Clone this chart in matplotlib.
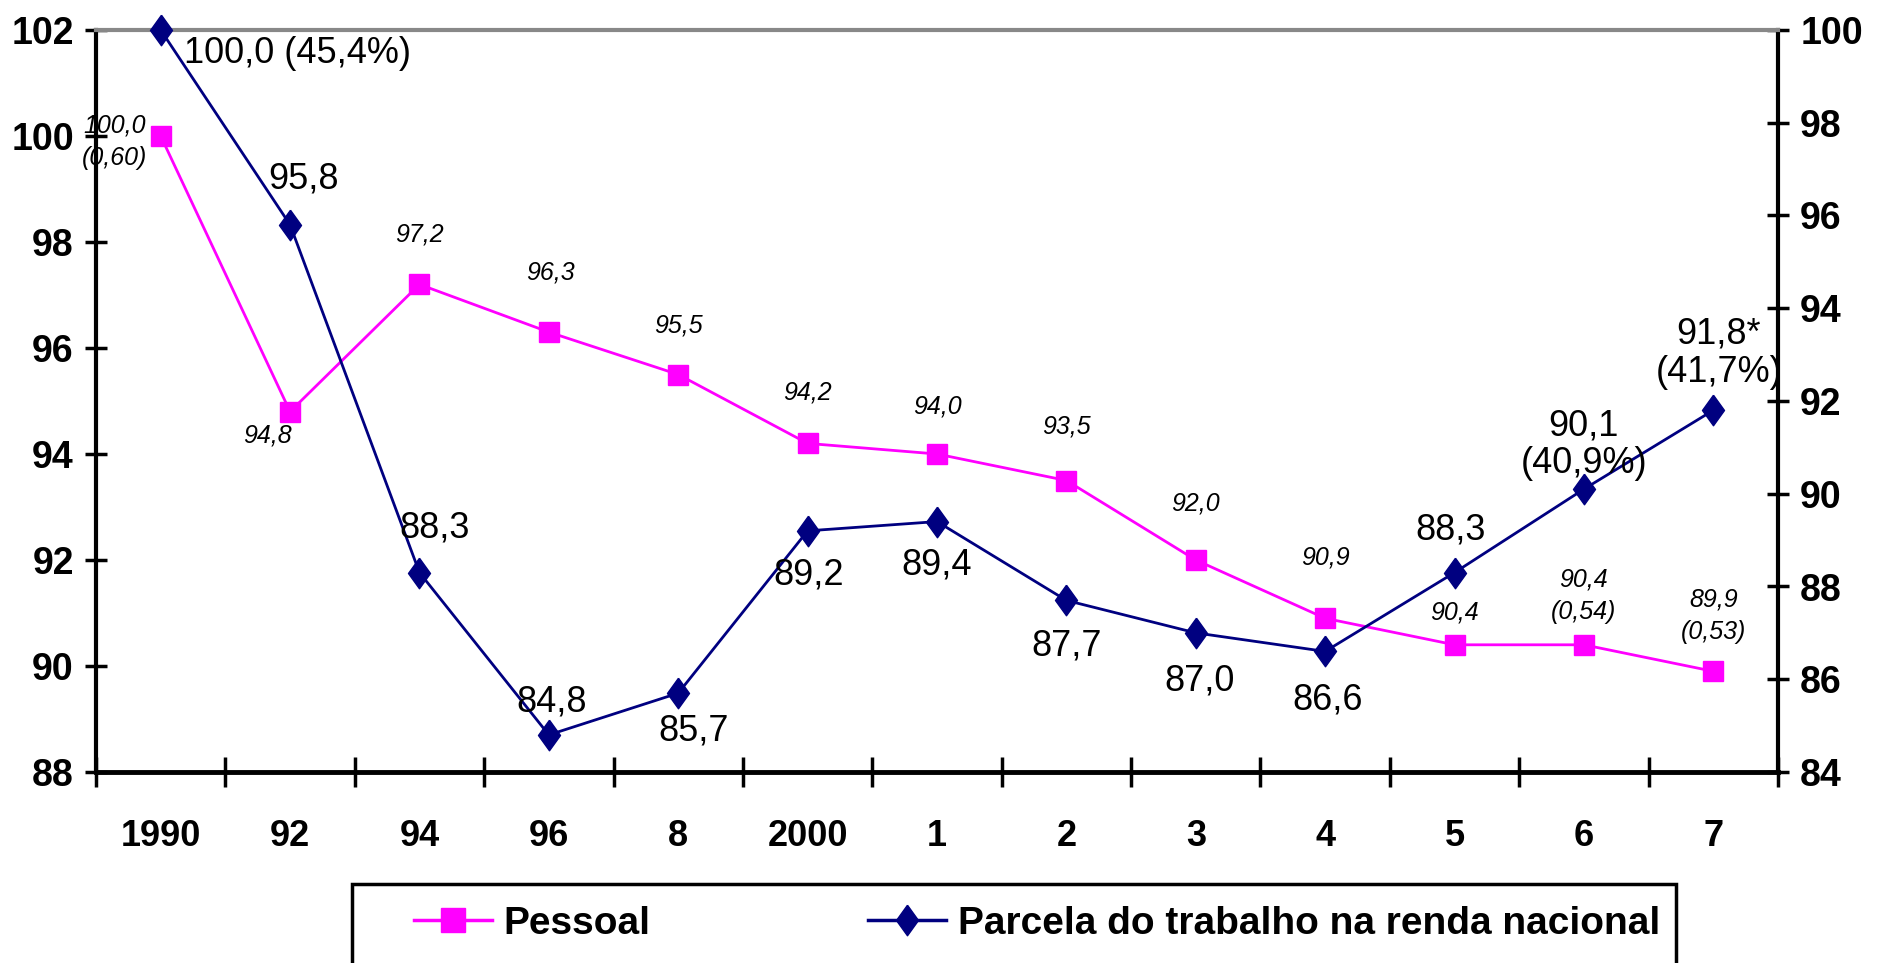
import numpy as np
import matplotlib.pyplot as plt
from matplotlib.patches import Rectangle
from matplotlib.lines import Line2D
from matplotlib import font_manager

names = {f.name for f in font_manager.fontManager.ttflist}
narrow = 'Liberation Sans Narrow' if 'Liberation Sans Narrow' in names else 'Liberation Sans'
plt.rcParams['font.family'] = [narrow, 'DejaVu Sans']

years = ['1990', '92', '94', '96', '8', '2000', '1', '2', '3', '4', '5', '6', '7']
pessoal = [100.0, 94.8, 97.2, 96.3, 95.5, 94.2, 94.0, 93.5, 92.0, 90.9, 90.4, 90.4, 89.9]
parcela = [100.0, 95.8, 88.3, 84.8, 85.7, 89.2, 89.4, 87.7, 87.0, 86.6, 88.3, 90.1, 91.8]
pessoal_extra = ['(0,60)', '', '', '', '', '', '', '', '', '', '', '(0,54)', '(0,53)']
parcela_extra = ['(45,4%)', '', '', '', '', '', '', '', '', '', '', '(40,9%)', '(41,7%)']
parcela_mark = ['', '', '', '', '', '', '', '', '', '', '', '', '*']

# label offsets in points
pink_off = [(-33, -4), (-16, -17), (0, 36), (1, 43), (0, 35), (0, 37), (0, 34),
            (0, 39), (0, 41), (0, 44), (0, 23), (0, 35), (0, 40)]
navy_off = [(17, -17), (10, 33), (11, 32), (2, 24), (11, -27), (1, -32), (0, -31),
            (0, -33), (3, -35), (2, -35), (-3, 31), (0, 32), (4, 41)]

PINK = '#ff00ff'
NAVY = '#000080'

def fmt(v):
    return f'{v:.1f}'.replace('.', ',')

fig = plt.figure(figsize=(18.81, 9.63), dpi=100)
ax = fig.add_axes([96/1881, 1 - 772/963, (1778 - 96)/1881, (772 - 30)/963])
ax2 = ax.twinx()

x = np.arange(len(years))
diamond = [(0, 1), (0.72, 0), (0, -1), (-0.72, 0), (0, 1)]

ax.plot(x, pessoal, color=PINK, lw=2, marker='s', ms=15, mec=PINK, clip_on=False, zorder=3)
ax2.plot(x, parcela, color=NAVY, lw=2, marker=diamond, ms=22, mec=NAVY, clip_on=False, zorder=3)

ax.set_xlim(-0.5, len(years) - 0.5)
ax.set_ylim(88, 102)
ax2.set_ylim(84, 100)
ax.set_yticks(np.arange(88, 103, 2))
ax2.set_yticks(np.arange(84, 101, 2))

ax.set_xticks(np.arange(-0.5, len(years), 1))
ax.set_xticklabels([])
ax.set_xticks(x, labels=years, minor=True)
ax.tick_params(axis='x', which='major', direction='inout', length=22, width=2.5)
ax.tick_params(axis='x', which='minor', length=0, pad=34, labelsize=26)
ax.tick_params(axis='y', direction='inout', length=16, width=2.5, labelsize=27, pad=8)
ax2.tick_params(axis='y', direction='inout', length=16, width=2.5, labelsize=27, pad=8)
for lab in ax.get_xticklabels(minor=True) + ax.get_yticklabels() + ax2.get_yticklabels():
    lab.set_fontweight('bold')

for a in (ax, ax2):
    for s in a.spines.values():
        s.set_visible(False)
ax.spines['left'].set_visible(True)
ax.spines['left'].set_linewidth(3)
ax.spines['bottom'].set_visible(True)
ax.spines['bottom'].set_linewidth(3.5)
ax2.spines['right'].set_visible(True)
ax2.spines['right'].set_linewidth(3)
ax2.spines['top'].set_visible(True)
ax2.spines['top'].set_color('#888888')
ax2.spines['top'].set_linewidth(3)

for i, v in enumerate(pessoal):
    txt = fmt(v) + ('\n' + pessoal_extra[i] if pessoal_extra[i] else '')
    ax.annotate(txt, (x[i], v), xytext=pink_off[i], textcoords='offset points',
                ha='center', va='center', fontsize=18, style='italic',
                family=['Liberation Sans', 'DejaVu Sans'], linespacing=1.45, zorder=5)

for i, v in enumerate(parcela):
    if i == 0:
        txt = fmt(v) + ' ' + parcela_extra[i]
        ha = 'left'
    else:
        txt = fmt(v) + parcela_mark[i] + ('\n' + parcela_extra[i] if parcela_extra[i] else '')
        ha = 'center'
    ax2.annotate(txt, (x[i], v), xytext=navy_off[i], textcoords='offset points',
                 ha=ha, va='center', fontsize=26, linespacing=1.1, zorder=5)

# legend
fig.patches.append(Rectangle((352/1881, -0.05), (1676 - 352)/1881, 0.05 + (963 - 884)/963,
                             transform=fig.transFigure, fill=False, ec='black', lw=2.5))
handles = [Line2D([], [], color=PINK, lw=2.5, marker='s', ms=17),
           Line2D([], [], color=NAVY, lw=2.5, marker=diamond, ms=22)]
fig.legend(handles, ['Pessoal', 'Parcela do trabalho na renda nacional'],
           loc='center left', bbox_to_anchor=(414/1881, 1 - 924/963), ncol=2,
           frameon=False, borderpad=0, borderaxespad=0, handlelength=2.0,
           handletextpad=0.3, columnspacing=5.6,
           prop={'size': 28, 'weight': 'bold'})

fig.savefig('out.png', dpi=100)
